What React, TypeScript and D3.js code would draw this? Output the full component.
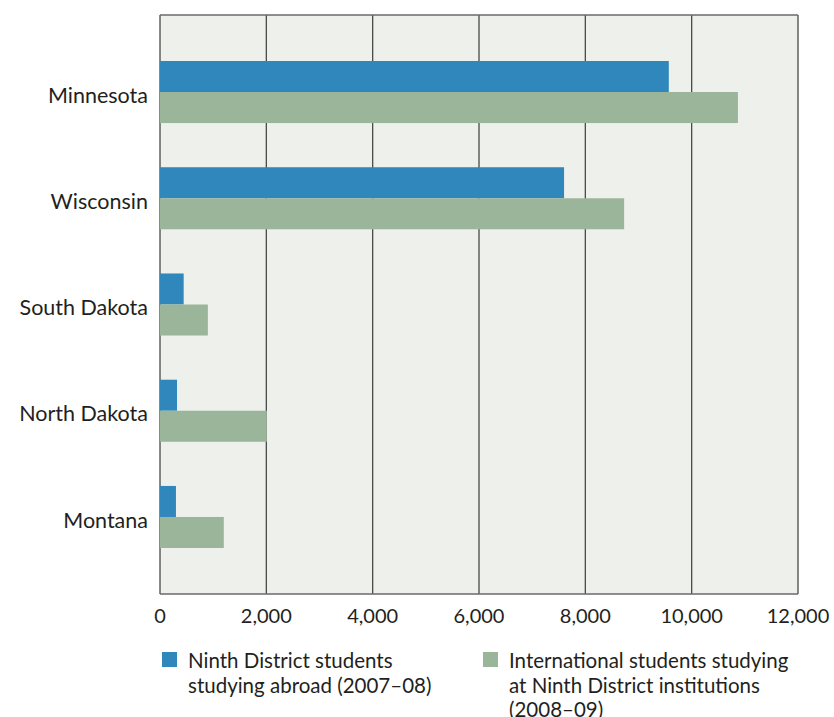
import React, { useEffect, useRef } from "react";
import * as d3 from "d3";

const states = ["Minnesota", "Wisconsin", "South Dakota", "North Dakota", "Montana"];
const seriesKeys = ["abroad", "international"];
const abroadValues = [9570, 7600, 445, 320, 300];
const internationalValues = [10870, 8730, 900, 2010, 1200];
const xTicks = [0, 2000, 4000, 6000, 8000, 10000, 12000];
const colors = ["#2f87bc", "#9bb59b"];
const legendLines = [
  ["Ninth District students", "studying abroad (2007–08)"],
  ["International students studying", "at Ninth District institutions", "(2008–09)"],
];

const FONT = "Lato, 'Open Sans', sans-serif";

const App = () => {
  const svgRef = useRef<SVGSVGElement>(null);

  useEffect(() => {
    const svg = d3.select(svgRef.current);
    svg.selectAll("*").remove();

    const width = 834;
    const height = 717;
    const m = { top: 15, right: 36, bottom: 123, left: 160 };
    const innerW = width - m.left - m.right;
    const innerH = height - m.top - m.bottom;

    const x = d3.scaleLinear().domain([0, 12000]).range([0, innerW]);
    const y = d3
      .scaleBand<string>()
      .domain(states)
      .range([0, innerH])
      .paddingInner(0.416)
      .paddingOuter(0.433);
    const ySub = d3.scaleBand<string>().domain(seriesKeys).range([0, y.bandwidth()]);

    const data = states.map((s, i) => ({
      state: s,
      values: [abroadValues[i], internationalValues[i]],
    }));

    const g = svg.append("g").attr("transform", `translate(${m.left},${m.top})`);

    g.append("rect")
      .attr("width", innerW)
      .attr("height", innerH)
      .attr("fill", "#eef0eb");

    // grid lines
    g.selectAll(".grid")
      .data(xTicks)
      .enter()
      .append("line")
      .attr("x1", (d) => x(d))
      .attr("x2", (d) => x(d))
      .attr("y1", 0)
      .attr("y2", innerH)
      .attr("stroke", "#4a4a4a")
      .attr("stroke-width", 1.3);

    g.append("line")
      .attr("x1", 0)
      .attr("x2", innerW)
      .attr("y1", 0)
      .attr("y2", 0)
      .attr("stroke", "#6a6a6a")
      .attr("stroke-width", 1.3);
    g.append("line")
      .attr("x1", 0)
      .attr("x2", innerW)
      .attr("y1", innerH)
      .attr("y2", innerH)
      .attr("stroke", "#6a6a6a")
      .attr("stroke-width", 1.3);

    // bars
    const groups = g
      .selectAll(".state")
      .data(data)
      .enter()
      .append("g")
      .attr("transform", (d) => `translate(0,${y(d.state)})`);

    groups
      .selectAll("rect")
      .data((d) => d.values.map((v, i) => ({ key: seriesKeys[i], value: v, i })))
      .enter()
      .append("rect")
      .attr("x", x(0))
      .attr("y", (d) => ySub(d.key) as number)
      .attr("width", (d) => x(d.value) - x(0))
      .attr("height", ySub.bandwidth())
      .attr("fill", (d) => colors[d.i]);

    // category labels
    g.selectAll(".state-label")
      .data(states)
      .enter()
      .append("text")
      .attr("x", -12)
      .attr("y", (d) => (y(d) as number) + y.bandwidth() / 2)
      .attr("dy", "0.5em")
      .attr("text-anchor", "end")
      .attr("font-family", FONT)
      .attr("font-size", 21.5)
      .attr("fill", "#231f20")
      .text((d) => d);

    // x tick labels
    g.selectAll(".tick-label")
      .data(xTicks)
      .enter()
      .append("text")
      .attr("x", (d) => x(d))
      .attr("y", innerH + 29)
      .attr("text-anchor", "middle")
      .attr("font-family", FONT)
      .attr("font-size", 20)
      .attr("fill", "#231f20")
      .text((d) => d3.format(",")(d));

    // legend
    const legendX = [162, 483];
    legendLines.forEach((lines, i) => {
      const lg = svg.append("g").attr("transform", `translate(${legendX[i]},652)`);
      lg.append("rect").attr("width", 15).attr("height", 15).attr("fill", colors[i]);
      lg.append("text")
        .attr("x", 26)
        .attr("y", 16)
        .attr("font-family", FONT)
        .attr("font-size", 20.5)
        .attr("fill", "#231f20")
        .selectAll("tspan")
        .data(lines)
        .enter()
        .append("tspan")
        .attr("x", 26)
        .attr("dy", (_d, j) => (j === 0 ? 0 : 24.5))
        .text((d) => d);
    });
  }, []);

  return (
    <svg
      ref={svgRef}
      width={834}
      height={717}
      style={{ position: "absolute", left: 0, top: 0, background: "#fff" }}
    />
  );
};

export default App;
